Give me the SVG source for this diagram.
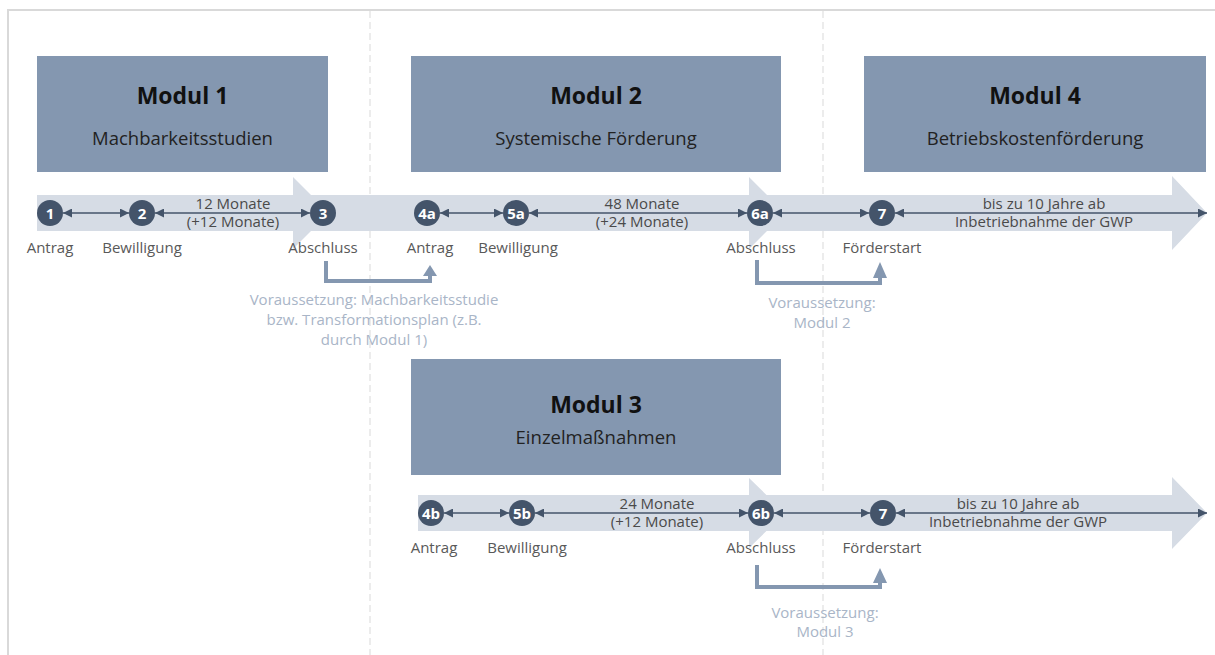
<svg xmlns="http://www.w3.org/2000/svg" width="1215" height="655" viewBox="0 0 1215 655">
<style>
.frame{stroke:#d9d9d9;stroke-width:2;fill:none}
.dash{stroke:#d9d9d9;stroke-width:1;stroke-dasharray:7,4;fill:none}
.band{fill:#d6dce5}
.box{fill:#8497b0}
.t{font-family:"Open Sans","Liberation Sans",sans-serif}
.title{font-size:23px;font-weight:bold;fill:#111;text-anchor:middle}
.sub{font-size:18.5px;fill:#222;text-anchor:middle}
.dot{fill:#44546a}
.num{font-size:15px;font-weight:bold;fill:#fff;text-anchor:middle}
.lab{font-size:15px;fill:#595959;text-anchor:middle}
.dur{font-size:15px;fill:#4a4a4a;text-anchor:middle}
.pre{font-size:15px;fill:#a9b5c7;text-anchor:middle}
.link{stroke:#44546a;stroke-width:1.3;fill:none;marker-start:url(#ah);marker-end:url(#ah)}
.brk{stroke:#8497b0;stroke-width:4;fill:none}
.brkh{fill:#8497b0}
</style>
<defs>
<marker id="ah" viewBox="0 0 10 10" refX="10" refY="5" markerWidth="10" markerHeight="9" markerUnits="userSpaceOnUse" orient="auto-start-reverse">
<path d="M0,0 L10,5 L0,10 z" fill="#44546a"/>
</marker>
</defs>
<rect width="1215" height="655" fill="#fff"/>
<path class="frame" d="M8,655 V10 H1215"/>
<line class="dash" x1="370" y1="11" x2="370" y2="655"/>
<line class="dash" x1="823" y1="11" x2="823" y2="655"/>

<g id="bands">
<polygon class="band" points="37,195 293,195 293,177 329,213 293,249 293,231 37,231"/>
<polygon class="band" points="305,195 749,195 749,177 785,213 749,249 749,231 305,231"/>
<polygon class="band" points="765,195 1172,195 1172,176 1207,213 1172,250 1172,231 765,231"/>
<polygon class="band" points="418,495 749,495 749,478 785,513 749,548 749,531 418,531"/>
<polygon class="band" points="765,495 1172,495 1172,477 1207,513 1172,549 1172,531 765,531"/>
</g>

<g id="modul1"><rect class="box" x="37" y="56" width="291" height="116"/>
<text class="t title" x="182.5" y="104">Modul 1</text>
<text class="t sub" x="182.5" y="145">Machbarkeitsstudien</text></g>
<g id="modul2"><rect class="box" x="411" y="56" width="370" height="116"/>
<text class="t title" x="596" y="104">Modul 2</text>
<text class="t sub" x="596" y="145">Systemische Förderung</text></g>
<g id="modul4"><rect class="box" x="864" y="56" width="342" height="116"/>
<text class="t title" x="1035" y="104">Modul 4</text>
<text class="t sub" x="1035" y="145">Betriebskostenförderung</text></g>
<g id="modul3"><rect class="box" x="411" y="359" width="370" height="116"/>
<text class="t title" x="596" y="413">Modul 3</text>
<text class="t sub" x="596" y="444">Einzelmaßnahmen</text></g>

<g id="connectors">
<line class="link" x1="63" y1="213" x2="129" y2="213"/>
<line class="link" x1="155" y1="213" x2="310" y2="213"/>
<line class="link" x1="440" y1="213" x2="503" y2="213"/>
<line class="link" x1="529" y1="213" x2="747" y2="213"/>
<line class="link" x1="773" y1="213" x2="869" y2="213"/>
<line class="link" x1="895" y1="213" x2="1207" y2="213"/>
<line class="link" x1="444" y1="513" x2="509" y2="513"/>
<line class="link" x1="535" y1="513" x2="748" y2="513"/>
<line class="link" x1="774" y1="513" x2="870" y2="513"/>
<line class="link" x1="896" y1="513" x2="1207" y2="513"/>
<path class="brk" d="M326,261 V281 H430 V273"/>
<polygon class="brkh" points="423,276 430,265 437,276"/>
<path class="brk" d="M757,260 V283 H880 V275"/>
<polygon class="brkh" points="873,278 880,262 887,278"/>
<path class="brk" d="M757,565 V587 H880 V580"/>
<polygon class="brkh" points="873,583 880,568 887,583"/>
</g>

<g id="s1"><circle class="dot" cx="50" cy="213" r="13"/><text class="t num" x="50" y="218.5">1</text><text class="t lab" x="50" y="253">Antrag</text></g>
<g id="s2"><circle class="dot" cx="142" cy="213" r="13"/><text class="t num" x="142" y="218.5">2</text><text class="t lab" x="142" y="253">Bewilligung</text></g>
<g id="s3"><circle class="dot" cx="323" cy="213" r="13"/><text class="t num" x="323" y="218.5">3</text><text class="t lab" x="323" y="253">Abschluss</text></g>
<g id="s4a"><circle class="dot" cx="427" cy="213" r="13"/><text class="t num" x="427" y="218.5">4a</text><text class="t lab" x="430" y="253">Antrag</text></g>
<g id="s5a"><circle class="dot" cx="516" cy="213" r="13"/><text class="t num" x="516" y="218.5">5a</text><text class="t lab" x="518" y="253">Bewilligung</text></g>
<g id="s6a"><circle class="dot" cx="760" cy="213" r="13"/><text class="t num" x="760" y="218.5">6a</text><text class="t lab" x="761" y="253">Abschluss</text></g>
<g id="s7a"><circle class="dot" cx="882" cy="213" r="13"/><text class="t num" x="882" y="218.5">7</text><text class="t lab" x="882" y="253">Förderstart</text></g>
<g id="s4b"><circle class="dot" cx="431" cy="513" r="13"/><text class="t num" x="431" y="518.5">4b</text><text class="t lab" x="434" y="553">Antrag</text></g>
<g id="s5b"><circle class="dot" cx="522" cy="513" r="13"/><text class="t num" x="522" y="518.5">5b</text><text class="t lab" x="527" y="553">Bewilligung</text></g>
<g id="s6b"><circle class="dot" cx="761" cy="513" r="13"/><text class="t num" x="761" y="518.5">6b</text><text class="t lab" x="761" y="553">Abschluss</text></g>
<g id="s7b"><circle class="dot" cx="883" cy="513" r="13"/><text class="t num" x="883" y="518.5">7</text><text class="t lab" x="882" y="553">Förderstart</text></g>

<g id="durations">
<text class="t dur" x="233" y="209">12 Monate</text><text class="t dur" x="233" y="227">(+12 Monate)</text>
<text class="t dur" x="642" y="209">48 Monate</text><text class="t dur" x="642" y="227">(+24 Monate)</text>
<text class="t dur" x="1044" y="209">bis zu 10 Jahre ab</text><text class="t dur" x="1044" y="227">Inbetriebnahme der GWP</text>
<text class="t dur" x="657" y="509">24 Monate</text><text class="t dur" x="657" y="527">(+12 Monate)</text>
<text class="t dur" x="1018" y="509">bis zu 10 Jahre ab</text><text class="t dur" x="1018" y="527">Inbetriebnahme der GWP</text>
</g>

<g id="prereqs">
<text class="t pre" x="374" y="305">Voraussetzung: Machbarkeitsstudie</text>
<text class="t pre" x="374" y="325">bzw. Transformationsplan (z.B.</text>
<text class="t pre" x="374" y="345">durch Modul 1)</text>
<text class="t pre" x="822" y="308">Voraussetzung:</text>
<text class="t pre" x="822" y="328">Modul 2</text>
<text class="t pre" x="825" y="618">Voraussetzung:</text>
<text class="t pre" x="825" y="637">Modul 3</text>
</g>
</svg>
